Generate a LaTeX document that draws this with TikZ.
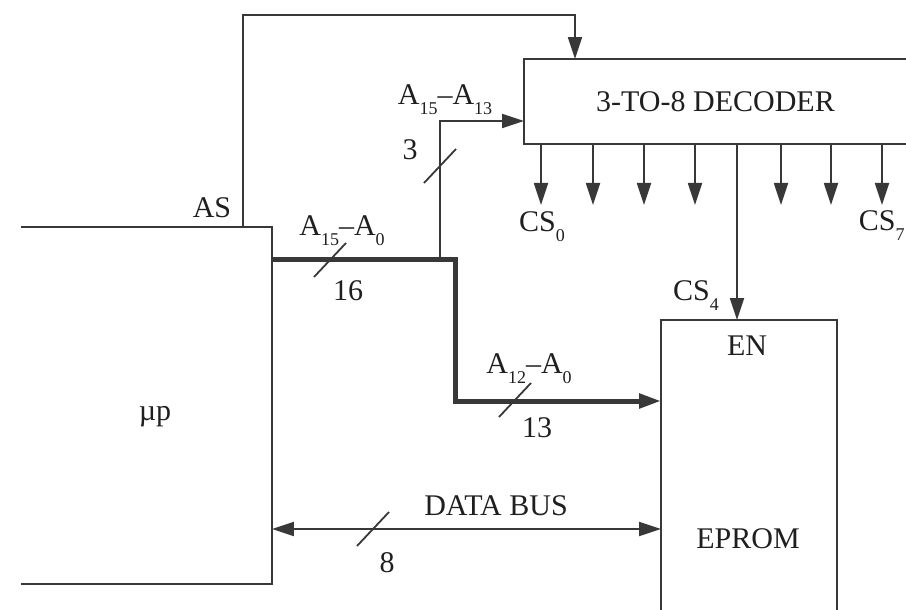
\documentclass[tikz,border=0pt]{standalone}
\usepackage{fontspec}
\setmainfont{Liberation Serif}
\usetikzlibrary{arrows.meta}

\newcommand{\sigsub}[2]{#1\raisebox{-5pt}{\fontsize{9}{9}\selectfont #2}}

\begin{document}
\begin{tikzpicture}[x=0.5pt,y=-0.5pt,line width=0.9pt,draw=black!78,
		>={Triangle[length=11pt,width=7pt]},
		every node/.style={font=\fontsize{15}{18}\selectfont,text=black!88}]
			\tikzstyle{block}=[rectangle,inner sep=0pt]
			\tikzstyle{lbl}=[inner sep=0pt,anchor=base]
			\tikzstyle{bus}=[line width=2.5pt]
			\useasboundingbox (0,0) rectangle (906,610);

			% blocks, left side of up and right side of decoder fall off the page
			\node[block,minimum width=124.5pt,minimum height=177.5pt] (up) at (146.5,405.5) {};
			\node[block,minimum width=190.5pt,minimum height=41.5pt] (dec) at (715.5,101.5) {3-TO-8 DECODER};
			\node[block,minimum width=87pt,minimum height=144.5pt] (eprom) at (749,465.5) {};
			\draw (up.north west) -- (up.north east) -- (up.south east) -- (up.south west);
			\draw (dec.north east) -- (dec.north west) -- (dec.south west) -- (dec.south east);
			\draw (eprom.south west) -- (eprom.north west) -- (eprom.north east) -- (eprom.south east);

			\node[lbl] (uptxt) at (155,420) {µp};
			\node[lbl] (en) at (747,355) {EN};
			\node[lbl] (eptxt) at (748,548) {EPROM};

			% decoder outputs
			\foreach \x/\n in {541/0, 593/1, 644/2, 695/3, 781/5, 831/6, 882/7} {
				\coordinate (cs\n) at (\x,205);
				\draw[->] (cs\n |- dec.south) -- (cs\n);
			}
			\draw[->] (737,0 |- dec.south) -- (737,0 |- eprom.north);

			% AS strobe
			\draw[->] (243,0 |- up.north) |- (575,15) -- (575,0 |- dec.north);

			% address bus
			\coordinate (tap) at (440,260);
			\coordinate (jog) at (455,260);
			\draw[bus,->] (up.east |- tap) -- (jog) |- (eprom.west |- 0,401);
			\draw[->] (tap) |- (dec.west |- 0,121);

			% data bus
			\draw[<->] (up.east |- 0,529) -- (eprom.west |- 0,529);

			\foreach \x/\y in {330/260, 440/166, 515/400, 373/529}
				\draw ({\x-16},{\y+17}) -- ({\x+16},{\y-17});

			\node[lbl] (as) at (212,218) {AS};
			\node[lbl] (ahi) at (342,235) {\sigsub{A}{15}--\sigsub{A}{0}};
			\node[lbl] (n16) at (348,300) {16};
			\node[lbl] (atop) at (445,105) {\sigsub{A}{15}--\sigsub{A}{13}};
			\node[lbl] (n3) at (410,160) {3};
			\node[lbl] (alo) at (529,373) {\sigsub{A}{12}--\sigsub{A}{0}};
			\node[lbl] (n13) at (537,437) {13};
			\node[lbl] (dbus) at (496,515) {DATA BUS};
			\node[lbl] (n8) at (387,572) {8};
			\node[lbl] (cs0txt) at (542,232) {\sigsub{CS}{0}};
			\node[lbl,anchor=base west] (cs7txt) at (858,231) {\sigsub{CS}{7}};
			\node[lbl] (cs4txt) at (696,300) {\sigsub{CS}{4}};
		\end{tikzpicture}
\end{document}
